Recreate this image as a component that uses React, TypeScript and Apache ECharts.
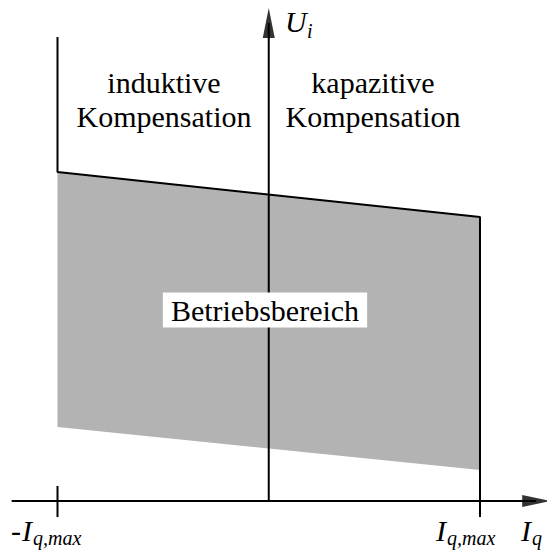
import React, { useEffect, useRef } from "react";
import * as echarts from "echarts";

// Normalised reactive current Iq / Iq,max at the two limits
const iqLimits = [-1, 1];
// Upper and lower voltage limit of the operating range (arbitrary units)
const uiUpper = [3.29, 2.84];
const uiLower = [0.74, 0.31];
// Upper end of the vertical line at -Iq,max
const uiLeftTop = 4.64;
// Tick marks on the Iq axis
const tickPositions = [-1, 1];
const tickHalf = [0.15, -0.16];
// Axis geometry (data units)
const xAxisStart = -1.217;
const xArrow = 1.266;
const yArrow = 4.78;

const FONT = "Liberation Serif";

export default function App() {
  const ref = useRef<HTMLDivElement | null>(null);
  useEffect(() => {
    if (!ref.current) return;
    const chart = echarts.init(ref.current, null, { renderer: "svg" });
    const black = "#000";
    const lineStyle = { color: black, width: 2 };
    const text = (t: string, x: number, y: number, size: number, italic = false, align = "left") => ({
      type: "text",
      x,
      y,
      silent: true,
      style: {
        text: t,
        fill: black,
        fontFamily: FONT,
        fontSize: size,
        fontStyle: italic ? "italic" : "normal",
        align,
        verticalAlign: "middle",
      },
    });
    chart.setOption({
      animation: false,
      backgroundColor: "#fff",
      grid: { left: 0, right: 0, top: 0, bottom: 0 },
      xAxis: { type: "value", min: -1.2722, max: 1.3172, show: false },
      yAxis: { type: "value", min: -0.51, max: 5.01, show: false },
      series: [
        {
          type: "custom",
          silent: true,
          data: [[0]],
          renderItem: (params: any, api: any) => {
            const pts: number[][] = [];
            iqLimits.forEach((x, i) => pts.push(api.coord([x, uiUpper[i]])));
            for (let i = iqLimits.length - 1; i >= 0; i--) pts.push(api.coord([iqLimits[i], uiLower[i]]));
            return { type: "polygon", shape: { points: pts }, style: { fill: "#b3b3b3" } };
          },
          z: 1,
        },
        {
          type: "line",
          symbol: "none",
          silent: true,
          lineStyle,
          z: 2,
          data: [
            [iqLimits[0], uiLeftTop],
            [iqLimits[0], uiUpper[0]],
            [iqLimits[1], uiUpper[1]],
            [iqLimits[1], tickHalf[1]],
          ],
        },
        // x axis
        {
          type: "line",
          symbol: "none",
          silent: true,
          lineStyle,
          z: 2,
          data: [
            [xAxisStart, 0],
            [xArrow, 0],
          ],
        },
        // y axis
        {
          type: "line",
          symbol: "none",
          silent: true,
          lineStyle,
          z: 2,
          data: [
            [0, 0],
            [0, yArrow],
          ],
        },
        // ticks
        ...tickPositions.map((t) => ({
          type: "line",
          symbol: "none",
          silent: true,
          lineStyle,
          z: 2,
          data: [
            [t, tickHalf[0]],
            [t, tickHalf[1]],
          ],
        })),
        // arrow heads
        {
          type: "scatter",
          silent: true,
          z: 3,
          symbol: "triangle",
          itemStyle: { color: black },
          data: [
            { value: [xArrow, 0], symbolSize: [12, 28], symbolRotate: -90 },
            { value: [0, yArrow], symbolSize: [12, 30], symbolRotate: 0 },
          ],
        },
      ],
      graphic: [
        text("induktive", 164, 82, 30, false, "center"),
        text("Kompensation", 164, 116, 30, false, "center"),
        text("kapazitive", 373, 82, 30, false, "center"),
        text("Kompensation", 373, 116, 30, false, "center"),
        text("U", 285, 21, 30, true),
        text("i", 307, 31, 20, true),
        text("-", 11, 530, 30, false),
        text("I", 22, 530, 30, true),
        text("q,max", 33, 538, 20, true),
        text("I", 436, 530, 30, true),
        text("q,max", 447, 538, 20, true),
        text("I", 521, 530, 30, true),
        text("q", 532, 538, 20, true),
        {
          type: "text",
          x: 265,
          y: 310,
          z: 100,
          silent: true,
          style: {
            text: "Betriebsbereich",
            fill: black,
            fontFamily: FONT,
            fontSize: 30,
            align: "center",
            verticalAlign: "middle",
            backgroundColor: "#fff",
            padding: [3, 8, 2, 8],
          },
        },
      ],
    });
    return () => chart.dispose();
  }, []);
  return (
    <div
      ref={ref}
      style={{ position: "fixed", left: 0, top: 0, width: 547, height: 552, background: "#fff" }}
    />
  );
}
